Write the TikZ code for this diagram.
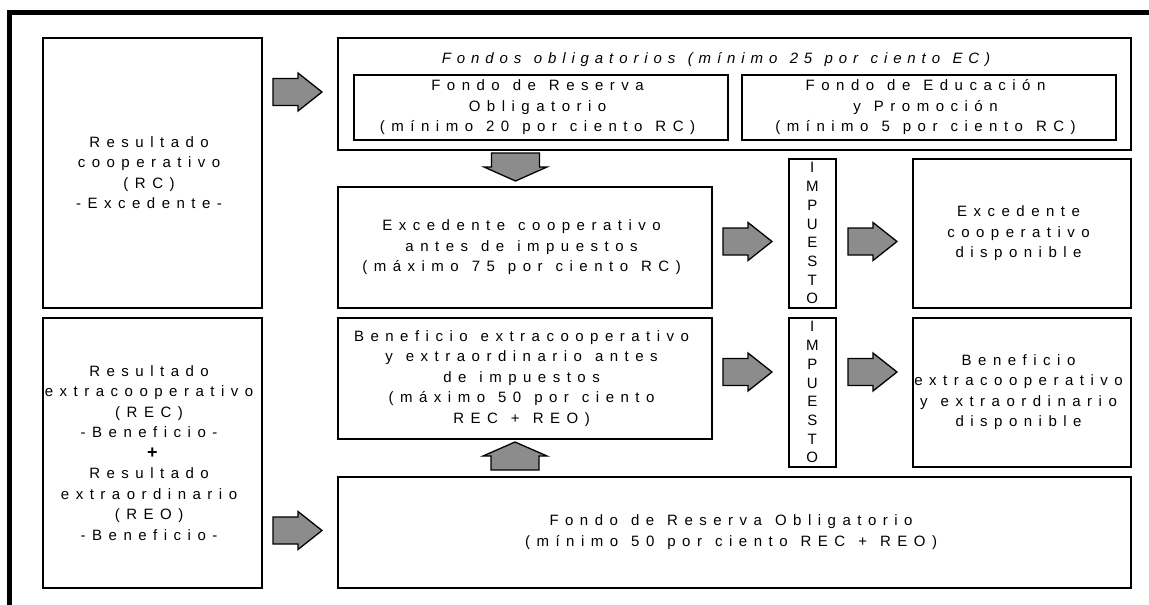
\documentclass[tikz,border=0pt]{standalone}
\usepackage{fontspec}
\setmainfont{Liberation Sans}
\definecolor{arrowgray}{HTML}{8C8C8C}
\ExplSyntaxOn
\dim_new:N \l_ls_track_dim
\seq_new:N \l_ls_words_seq
\NewDocumentCommand \ls { O{6.5pt} m }
  {
    \dim_set:Nn \l_ls_track_dim {#1}
    \seq_set_split:Nnn \l_ls_words_seq { ~ } {#2}
    \seq_map_indexed_inline:Nn \l_ls_words_seq
      {
        \int_compare:nNnT {##1} > {1} { \hspace{6.5pt} }
        \tl_map_inline:nn {##2} { ####1 \kern \l_ls_track_dim }
      }
  }
\ExplSyntaxOff
\tikzset{
  box/.style={draw=black, line width=1.6pt, align=center, inner sep=0pt, anchor=north west,
    font=\fontsize{15}{20.5}\selectfont},
  imptext/.style={draw=black, line width=1.6pt, align=center, inner sep=0pt, anchor=north west,
    font=\fontsize{15}{18.7}\selectfont},
  blockarrow/.style={draw=black, line width=1.3pt, fill=arrowgray, line join=miter},
  rarrow/.pic={\draw[blockarrow] (-24.5,-13.5) -- (0.5,-13.5) -- (0.5,-19) -- (24.5,0) -- (0.5,19) -- (0.5,13.5) -- (-24.5,13.5) -- cycle;},
  darrow/.pic={\draw[blockarrow] (-24,-14) -- (24,-14) -- (24,0) -- (31.5,0) -- (0,14) -- (-31.5,0) -- (-24,0) -- cycle;},
  uarrow/.pic={\draw[blockarrow] (-24,14) -- (-24,0) -- (-32,0) -- (0,-14) -- (32,0) -- (24,0) -- (24,14) -- cycle;}
}
\begin{document}
\begin{tikzpicture}[x=1pt,y=-1pt]
\useasboundingbox (0,0) rectangle (1149,605);
% outer frame
\draw[line width=5pt] (9.5,605) -- (9.5,12.5) -- (1149,12.5);

% left boxes
\node[box, minimum width=219pt, minimum height=270pt] (rc) at (42,37)
  {\ls{Resultado}\\\ls{cooperativo}\\\ls{(RC)}\\\ls{-Excedente-}};
\node[box, minimum width=219pt, minimum height=270pt] (rb) at (42,317)
  {\ls{Resultado}\\\ls{extracooperativo}\\\ls{(REC)}\\\ls{-Beneficio-}\\{\bfseries\fontsize{18}{20.5}\selectfont +}\\\ls{Resultado}\\\ls{extraordinario}\\\ls{(REO)}\\\ls{-Beneficio-}};

% fondos obligatorios
\node[box, minimum width=793pt, minimum height=112pt] (fondos) at (337,37) {};
\node[font=\itshape\fontsize{15}{20.5}\selectfont, inner sep=0pt] (ftitle) at (719,60)
  {\ls[5.9pt]{Fondos obligatorios (mínimo 25 por ciento EC)}};
\node[box, minimum width=374pt, minimum height=65pt] (fro) at (353,74)
  {\ls{Fondo de Reserva}\\\ls{Obligatorio}\\\ls{(mínimo 20 por ciento RC)}};
\node[box, minimum width=374pt, minimum height=65pt] (fep) at (741,74)
  {\ls{Fondo de Educación}\\\ls{y Promoción}\\\ls{(mínimo 5 por ciento RC)}};

% middle boxes
\node[box, minimum width=374pt, minimum height=121pt] (exc) at (337,186)
  {\ls{Excedente cooperativo}\\\ls{antes de impuestos}\\\ls{(máximo 75 por ciento RC)}};
\node[box, minimum width=374pt, minimum height=121pt] (ben) at (337,317)
  {\ls{Beneficio extracooperativo}\\\ls{y extraordinario antes}\\\ls{de impuestos}\\\ls{(máximo 50 por ciento}\\\ls{REC + REO)}};
\node[box, minimum width=793pt, minimum height=111pt] (frob) at (337,476)
  {\ls{Fondo de Reserva Obligatorio}\\\ls{(mínimo 50 por ciento REC + REO)}};

% impuesto
\node[imptext, minimum width=47pt, minimum height=149pt] (imp1) at (788,158)
  {I\\M\\P\\U\\E\\S\\T\\O};
\node[imptext, minimum width=47pt, minimum height=149pt] (imp2) at (788,317)
  {I\\M\\P\\U\\E\\S\\T\\O};

% disponibles
\node[box, minimum width=218pt, minimum height=149pt] (excd) at (912,158)
  {\ls{Excedente}\\\ls{cooperativo}\\\ls{disponible}};
\node[box, minimum width=218pt, minimum height=149pt] (bend) at (912,317)
  {\ls{Beneficio}\\\ls{extracooperativo}\\\ls{y extraordinario}\\\ls{disponible}};

% block arrows
\pic at (297.5,92) {rarrow};
\pic at (297.5,530.5) {rarrow};
\pic at (747.5,241.5) {rarrow};
\pic at (872.5,241.5) {rarrow};
\pic at (747.5,372) {rarrow};
\pic at (872.5,372) {rarrow};
\pic at (515.5,167) {darrow};
\pic at (515,456) {uarrow};
\end{tikzpicture}
\end{document}
